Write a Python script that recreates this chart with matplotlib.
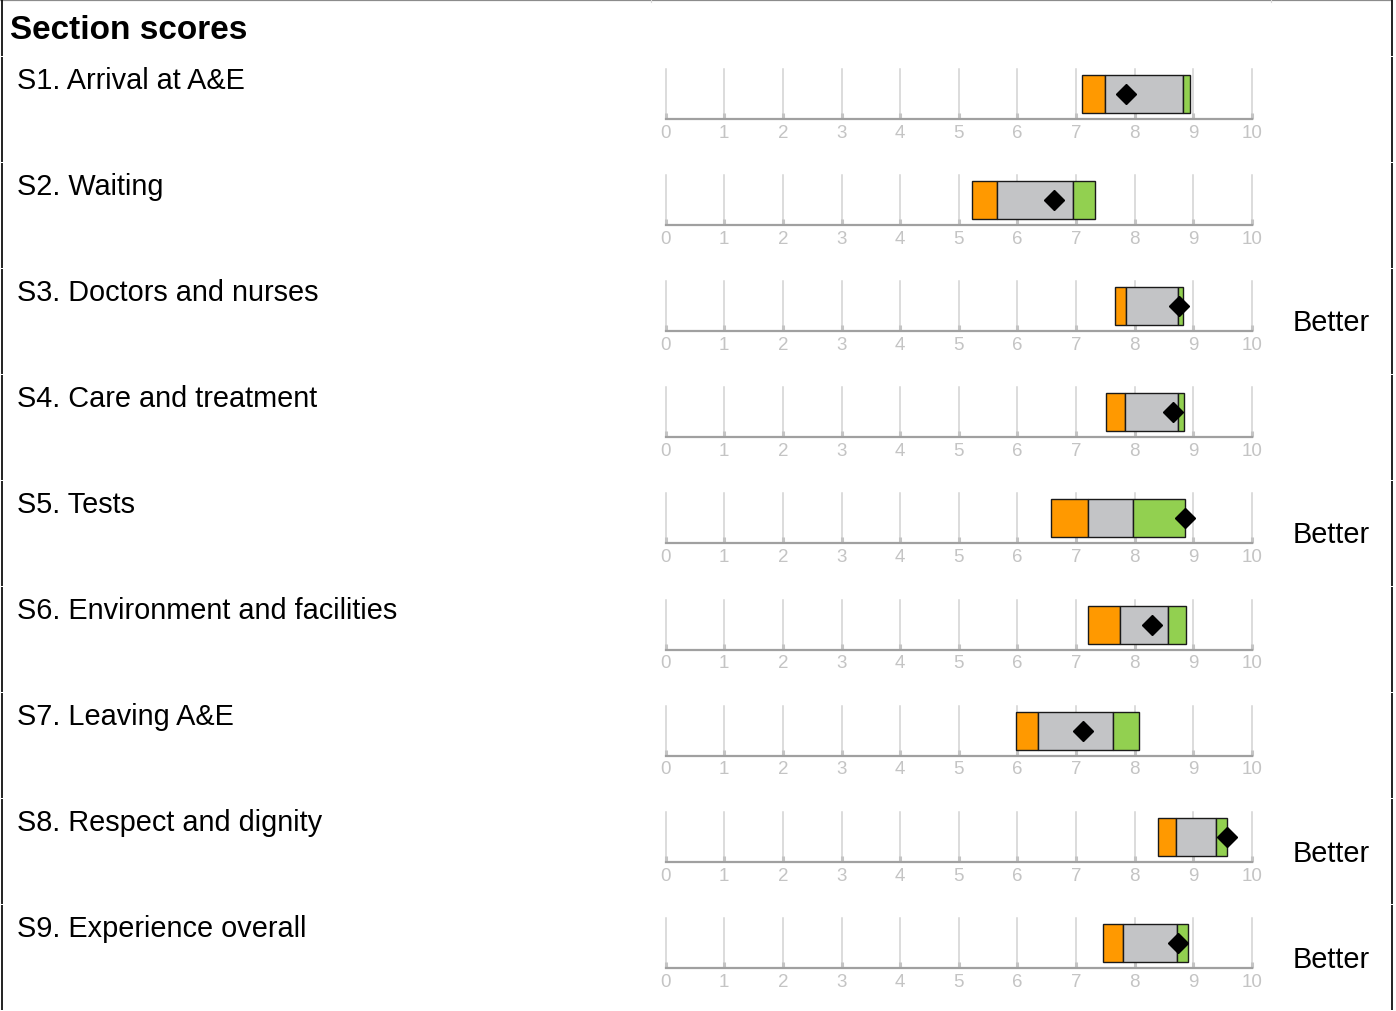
import matplotlib
matplotlib.use("Agg")
import matplotlib.pyplot as plt

plt.rcParams['font.family'] = ['Liberation Sans', 'DejaVu Sans']

# section names and scores (0-10 scale)
sections = [
    "S1. Arrival at A&E",
    "S2. Waiting",
    "S3. Doctors and nurses",
    "S4. Care and treatment",
    "S5. Tests",
    "S6. Environment and facilities",
    "S7. Leaving A&E",
    "S8. Respect and dignity",
    "S9. Experience overall",
]
band_low = [7.10, 5.23, 7.66, 7.51, 6.58, 7.21, 5.97, 8.40, 7.47]
band_mid_low = [7.50, 5.66, 7.86, 7.83, 7.20, 7.75, 6.36, 8.71, 7.80]
band_mid_high = [8.82, 6.95, 8.74, 8.75, 7.97, 8.57, 7.64, 9.39, 8.72]
band_high = [8.95, 7.33, 8.82, 8.84, 8.87, 8.88, 8.08, 9.57, 8.92]
trust_score = [7.85, 6.63, 8.76, 8.66, 8.87, 8.30, 7.12, 9.57, 8.75]
result = ["", "", "Better", "", "Better", "", "", "Better", "Better"]
tick_values = list(range(0, 11))

W, H = 1396, 1012
fig = plt.figure(figsize=(W / 100, H / 100), dpi=100)

# background axes in pixel units for frame and text
bg = fig.add_axes([0, 0, 1, 1])
bg.set_xlim(0, W)
bg.set_ylim(H, 0)
bg.axis("off")

row_top0 = 57
row_h = 106.1
x0_px, x10_px = 665.7, 1251.7

# frame
bg.plot([0, 1392], [1, 1], color="#8c8c8c", lw=1.6, solid_capstyle="butt")
for xg in (651, 1271):
    bg.plot([xg, xg], [0, 3], color="#d8d8d8", lw=0.8)
bounds = [0, row_top0] + [row_top0 + row_h * (i + 1) for i in range(len(sections))]
for xb in (2, 1392):
    for a, b in zip(bounds[:-1], bounds[1:]):
        bg.plot([xb, xb], [a + 0.5, b - 0.5], color="#111111", lw=1.3, solid_capstyle="butt")

bg.text(10, 38.5, "Section scores", fontsize=24, fontweight="bold", va="baseline", ha="left")

colors = {"low": "#ff9900", "mid": "#c3c4c6", "high": "#92d050"}

for i, name in enumerate(sections):
    top = row_top0 + row_h * i
    bg.text(17, top + 31.5, name, fontsize=20.8, va="baseline", ha="left")
    if result[i]:
        bg.text(1293, top + 62, result[i], fontsize=20.8, va="baseline", ha="left")

    ax = fig.add_axes([x0_px / W, 1 - (top + 63) / H, (x10_px - x0_px) / W, 50 / H])
    ax.set_xlim(0, 10)
    ax.set_ylim(0, 1)
    for v in tick_values:
        ax.axvline(v, color="#d2d2d2", lw=1.1, zorder=1, clip_on=False)
    y, h = 0.12, 0.76
    ax.barh(y, band_mid_low[i] - band_low[i], left=band_low[i], height=h, align="edge",
            color=colors["low"], edgecolor="#1a1a1a", lw=1.0, zorder=3)
    ax.barh(y, band_mid_high[i] - band_mid_low[i], left=band_mid_low[i], height=h, align="edge",
            color=colors["mid"], edgecolor="#1a1a1a", lw=1.0, zorder=3)
    ax.barh(y, band_high[i] - band_mid_high[i], left=band_mid_high[i], height=h, align="edge",
            color=colors["high"], edgecolor="#1a1a1a", lw=1.0, zorder=3)
    ax.plot([trust_score[i]], [0.5], marker="D", ms=10, color="black", zorder=5, clip_on=False)

    for s in ("top", "left", "right"):
        ax.spines[s].set_visible(False)
    ax.spines["bottom"].set_color("#a0a0a0")
    ax.spines["bottom"].set_linewidth(1.6)
    ax.set_yticks([])
    ax.set_xticks(tick_values)
    ax.set_xticklabels([str(v) for v in tick_values])
    ax.tick_params(axis="x", direction="in", length=4, width=2.2, color="#c4c4c4",
                   labelcolor="#c4c4c4", labelsize=13.5, pad=3.5)
    ax.patch.set_alpha(0)

fig.savefig("out.png", dpi=100)
